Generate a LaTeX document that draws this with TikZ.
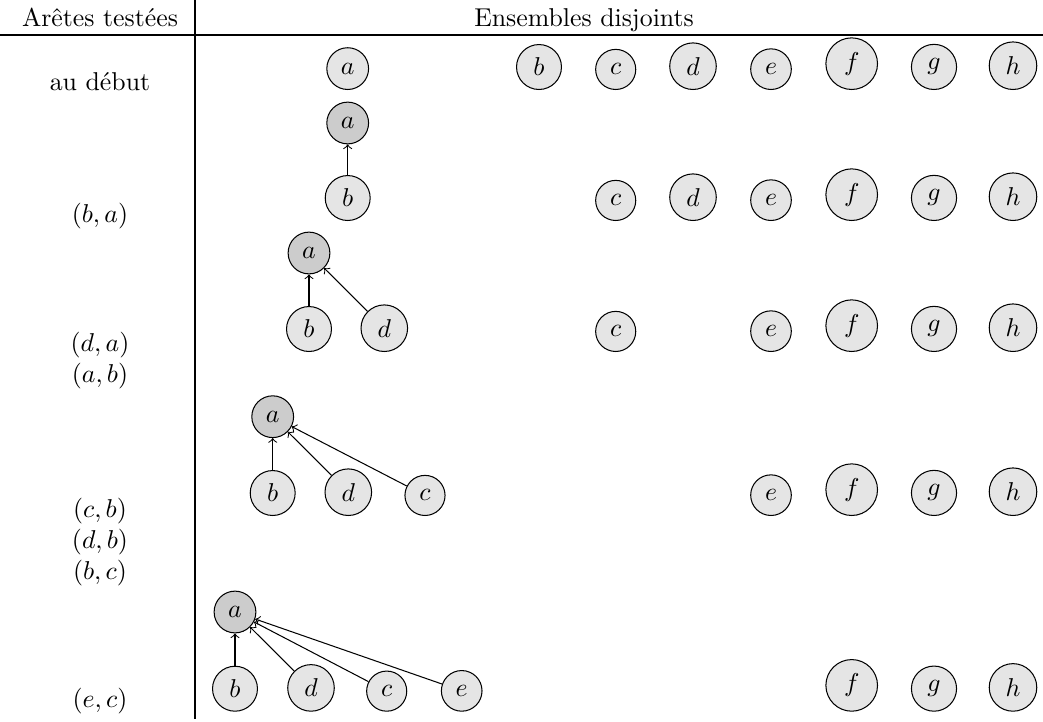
\documentclass[tikz,border=0pt]{standalone}
\begin{document}
\begin{tikzpicture}[x=0.3876pt,y=-0.3876pt,
  elem/.style={circle,draw,fill=gray!20,anchor=south,line width=0.4pt},
  root/.style={circle,draw,fill=gray!40,line width=0.4pt},
  lab/.style={anchor=base},
  link/.style={->,line width=0.4pt}]
\useasboundingbox (0,0) rectangle (1043,721);
% table
\coordinate (hl) at (0,35); \coordinate (hr) at (1043,35);
\coordinate (vt) at (195,0); \coordinate (vb) at (195,719);
\draw[line width=0.4pt] (hl) -- (hr);
\draw[line width=0.4pt] (vt) -- (vb);
\node[lab] (h1) at (100,26) {Arêtes testées};
\node[lab] (h2) at (584,26) {Ensembles disjoints};
% labels
\node[lab] (l1) at (100,90) {au début};
\node[lab] (l2) at (100,222) {$(b,a)$};
\node[lab] (l3) at (100,351) {$(d,a)$};
\node[lab] (l4) at (100,382) {$(a,b)$};
\node[lab] (l5) at (100,517) {$(c,b)$};
\node[lab] (l6) at (100,548) {$(d,b)$};
\node[lab] (l7) at (100,579) {$(b,c)$};
\node[lab] (l8) at (100,707) {$(e,c)$};
% row 1
\node[elem] (a1) at (347.7,90) {$a$};
\node[elem] (b1) at (539,90) {$b$};
\node[elem] (c1) at (615.7,90) {$c$};
\node[elem] (d1) at (693,90) {$d$};
\node[elem] (e1) at (771,90) {$e$};
\node[elem] (f1) at (851.7,90) {$f$};
\node[elem] (g1) at (934,90) {$g$};
\node[elem] (h1n) at (1013,90) {$h$};
% row 2
\node[root] (a2) at (347.7,123) {$a$};
\node[elem] (b2) at (347.7,221) {$b$};
\node[elem] (c2) at (615.7,221) {$c$};
\node[elem] (d2) at (693,221) {$d$};
\node[elem] (e2) at (771,221) {$e$};
\node[elem] (f2) at (851.7,221) {$f$};
\node[elem] (g2) at (934,221) {$g$};
\node[elem] (h2n) at (1013,221) {$h$};
\draw[link] (b2) -- (a2);
% row 3
\node[root] (a3) at (309,253) {$a$};
\node[elem] (b3) at (309,352) {$b$};
\node[elem] (d3) at (384.3,352) {$d$};
\node[elem] (c3) at (615.7,352) {$c$};
\node[elem] (e3) at (771,352) {$e$};
\node[elem] (f3) at (851.7,352) {$f$};
\node[elem] (g3) at (934,352) {$g$};
\node[elem] (h3) at (1013,352) {$h$};
\draw[link] (b3) -- (a3);
\draw[link] (d3) -- (a3);
% row 4
\node[root] (a4) at (272.7,416.7) {$a$};
\node[elem] (b4) at (272.7,516) {$b$};
\node[elem] (d4) at (348.3,516) {$d$};
\node[elem] (c4) at (425,516) {$c$};
\node[elem] (e4) at (771,516) {$e$};
\node[elem] (f4) at (851.7,516) {$f$};
\node[elem] (g4) at (934,516) {$g$};
\node[elem] (h4) at (1013,516) {$h$};
\draw[link] (b4) -- (a4);
\draw[link] (d4) -- (a4);
\draw[link] (c4) -- (a4);
% row 5
\node[root] (a5) at (235,612) {$a$};
\node[elem] (b5) at (235,711.7) {$b$};
\node[elem] (d5) at (311,711.7) {$d$};
\node[elem] (c5) at (386.7,711.7) {$c$};
\node[elem] (e5) at (461.7,711.7) {$e$};
\node[elem] (f5) at (851.7,711.7) {$f$};
\node[elem] (g5) at (934,711.7) {$g$};
\node[elem] (h5) at (1013,711.7) {$h$};
\draw[link] (b5) -- (a5);
\draw[link] (d5) -- (a5);
\draw[link] (c5) -- (a5);
\draw[link] (e5) -- (a5);
\end{tikzpicture}
\end{document}
